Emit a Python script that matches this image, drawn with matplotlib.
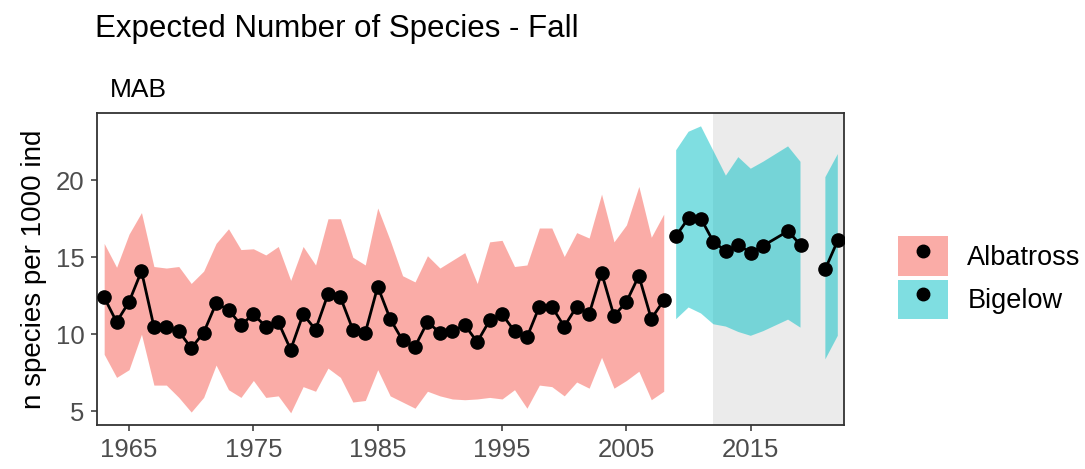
import numpy as np
import matplotlib
matplotlib.use("Agg")
import matplotlib.pyplot as plt
from matplotlib.patches import Patch
from matplotlib.lines import Line2D

plt.rcParams["font.family"] = ["Liberation Sans", "DejaVu Sans"]

# ---- data ----
alb_year = list(range(1963, 2009))
alb_mean = [12.4, 10.8, 12.1, 14.1, 10.5, 10.5, 10.2, 9.1, 10.1, 12.0, 11.6, 10.6, 11.3, 10.5, 10.8,
            9.0, 11.3, 10.3, 12.6, 12.4, 10.3, 10.1, 13.1, 11.0, 9.6, 9.2, 10.8, 10.1, 10.2, 10.6,
            9.5, 10.9, 11.3, 10.2, 9.8, 11.8, 11.8, 10.5, 11.8, 11.3, 14.0, 11.2, 12.1, 13.8, 11.0, 12.2]
alb_hi = [15.9, 14.35, 16.5, 17.9, 14.4, 14.3, 14.4, 13.3, 14.1, 15.9, 16.85, 15.5, 15.55, 15.15, 15.7,
          13.5, 15.7, 14.5, 17.5, 17.5, 15.0, 14.5, 18.2, 16.1, 13.8, 13.4, 15.1, 14.3, 14.8, 15.3,
          13.3, 16.0, 16.1, 14.4, 14.5, 16.9, 16.9, 15.05, 16.6, 16.25, 19.1, 16.0, 17.1, 19.6, 16.3, 17.8]
alb_lo = [8.7, 7.2, 7.7, 10.0, 6.7, 6.7, 5.9, 4.95, 5.9, 8.0, 6.4, 5.9, 7.0, 5.9, 6.0,
          4.9, 6.6, 6.3, 7.8, 7.2, 5.6, 5.7, 7.7, 6.0, 5.6, 5.2, 6.3, 6.0, 5.8, 5.75,
          5.8, 5.9, 5.8, 6.4, 5.2, 6.7, 6.6, 6.0, 6.9, 6.5, 8.5, 6.5, 7.0, 7.6, 5.75, 6.3]

# 2017 not surveyed, 2020 missing (breaks line and ribbon)
big_year = [2009, 2010, 2011, 2012, 2013, 2014, 2015, 2016, 2018, 2019, 2020, 2021, 2022]
big_mean = [16.4, 17.55, 17.5, 16.0, 15.4, 15.8, 15.3, 15.75, 16.7, 15.8, np.nan, 14.25, 16.1]
big_hi = [21.95, 23.15, 23.5, 21.9, 20.3, 21.5, 20.75, 21.2, 22.2, 21.2, np.nan, 20.2, 21.7]
big_lo = [10.98, 11.74, 11.35, 10.65, 10.5, 10.15, 9.9, 10.2, 10.95, 10.43, np.nan, 8.37, 9.9]

shade_from = 2012
xticks = [1965, 1975, 1985, 1995, 2005, 2015]
yticks = [5, 10, 15, 20]

ALB, BIG = "#F8766D", "#00BFC4"
INK, GREY = "#333333", "#4D4D4D"

fig = plt.figure(figsize=(10.85, 4.69), dpi=100)
ax = fig.add_axes([0.0897, 0.0945, 0.6882, 0.664])

ax.axvspan(shade_from, 2030, color="#EBEBEB", lw=0, zorder=0)
ax.fill_between(alb_year, alb_lo, alb_hi, color=ALB, alpha=0.6, lw=0, zorder=1)
ax.fill_between(big_year, big_lo, big_hi, color=BIG, alpha=0.5, lw=0, zorder=1)
for yr, m in [(alb_year, alb_mean), (big_year, big_mean)]:
    ax.plot(yr, m, color="black", lw=2.0, marker="o", ms=9.5, zorder=3)

ax.set_xlim(1962.45, 2022.5)
ax.set_ylim(4.13, 24.35)
ax.set_xticks(xticks)
ax.set_yticks(yticks)
ax.tick_params(direction="out", length=4.3, width=1.1, color=INK, labelcolor=GREY,
               labelsize=18.5, pad=5)
for s in ax.spines.values():
    s.set_color(INK)
    s.set_linewidth(1.3)
ax.set_ylabel("n species per 1000 ind", fontsize=20, labelpad=6)

fig.text(0.088, 0.922, "Expected Number of Species - Fall", fontsize=22.5, va="baseline")
fig.text(0.101, 0.793, "MAB", fontsize=19, va="baseline")

handles = [(Patch(facecolor=ALB, alpha=0.6, lw=0), Line2D([], [], ls="", marker="o", color="black", ms=9)),
           (Patch(facecolor=BIG, alpha=0.5, lw=0), Line2D([], [], ls="", marker="o", color="black", ms=9))]
fig.legend(handles, ["Albatross", "Bigelow"], loc="center left", bbox_to_anchor=(0.828, 0.408),
           frameon=False, fontsize=19.5, handlelength=1.85, handleheight=1.85, labelspacing=0.15,
           handletextpad=0.7, borderpad=0, borderaxespad=0)

fig.savefig("out.png", dpi=100)
